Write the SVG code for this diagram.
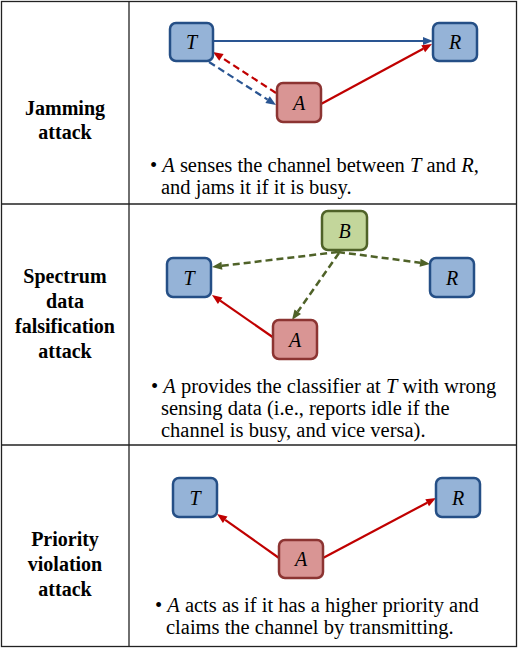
<svg xmlns="http://www.w3.org/2000/svg" width="518" height="648" viewBox="0 0 518 648">
<rect x="0" y="0" width="518" height="648" fill="#fff"/>
<g id="table" fill="none" stroke="#222" stroke-width="1.3">
<rect x="1.5" y="1.5" width="515" height="645"/>
<line x1="129" y1="1.5" x2="129" y2="646.5"/>
<line x1="1.5" y1="204" x2="516.5" y2="204"/>
<line x1="1.5" y1="445" x2="516.5" y2="445"/>
</g>
<g id="labels" font-family="Liberation Serif" font-weight="bold" font-size="20" text-anchor="middle" fill="#000">
<text x="65" y="115">Jamming</text>
<text x="65" y="139">attack</text>
<text x="65" y="283">Spectrum</text>
<text x="65" y="308">data</text>
<text x="65" y="333">falsification</text>
<text x="65" y="358">attack</text>
<text x="65" y="546">Priority</text>
<text x="65" y="571">violation</text>
<text x="65" y="596">attack</text>
</g>
<g id="connectors" stroke-width="2.2">
<line stroke="#2a5592" x1="213" y1="41" x2="424" y2="41"/>
<polygon fill="#2a5592" points="433,41 423,37 423,45"/>
<line stroke="#c00000" x1="321" y1="104" x2="423.2" y2="48.75"/>
<polygon fill="#c00000" points="432,44 425.1,52.3 421.3,45.2"/>
<line stroke="#c00000" stroke-dasharray="7 4" x1="276" y1="93" x2="221.4" y2="57.45"/>
<polygon fill="#c00000" points="213,52 223.6,54.1 219.2,60.8"/>
<line stroke="#2a5592" stroke-dasharray="7 4" x1="209" y1="62" x2="267.6" y2="99.6"/>
<polygon fill="#2a5592" points="276,105 265.4,103 269.8,96.2"/>
<line stroke="#4f6228" stroke-width="2.5" stroke-dasharray="7 4" x1="338" y1="252" x2="221.9" y2="265.8"/>
<polygon fill="#4f6228" points="212,267 221.4,261.8 222.4,269.8"/>
<line stroke="#4f6228" stroke-width="2.5" stroke-dasharray="7 4" x1="338" y1="252" x2="420.1" y2="262.7"/>
<polygon fill="#4f6228" points="430,264 419.6,266.7 420.6,258.7"/>
<line stroke="#4f6228" stroke-width="2.5" stroke-dasharray="7 4" x1="339" y1="253" x2="297.7" y2="311.8"/>
<polygon fill="#4f6228" points="292,320 294.5,309.5 301,314.1"/>
<line stroke="#c00000" x1="274" y1="338" x2="220.2" y2="300.7"/>
<polygon fill="#c00000" points="212,295 222.5,297.4 217.9,304"/>
<line stroke="#c00000" x1="279" y1="558" x2="225.2" y2="519.8"/>
<polygon fill="#c00000" points="217,514 227.5,516.5 222.9,523.1"/>
<line stroke="#c00000" x1="323" y1="558" x2="427.2" y2="502.7"/>
<polygon fill="#c00000" points="436,498 429,506.2 425.3,499.2"/>
</g>
<g id="nodes" font-family="Liberation Serif" font-style="italic" font-size="20" text-anchor="middle" stroke-width="2.5">
<g id="r1-T"><rect x="170" y="23" width="43" height="38" rx="6" fill="#95b3d7" stroke="#254f86"/><text x="191.5" y="49" fill="#000" stroke="none">T</text></g>
<g id="r1-R"><rect x="433" y="23" width="44" height="38" rx="6" fill="#95b3d7" stroke="#254f86"/><text x="455" y="49" fill="#000" stroke="none">R</text></g>
<g id="r1-A"><rect x="277" y="83" width="44" height="39" rx="6" fill="#d99594" stroke="#8c3432"/><text x="299" y="110" fill="#000" stroke="none">A</text></g>
<g id="r2-B"><rect x="322" y="211" width="45" height="39" rx="6" fill="#c3d69b" stroke="#4f6228"/><text x="344.5" y="238" fill="#000" stroke="none">B</text></g>
<g id="r2-T"><rect x="167" y="258" width="44" height="39" rx="6" fill="#95b3d7" stroke="#254f86"/><text x="189" y="285" fill="#000" stroke="none">T</text></g>
<g id="r2-R"><rect x="430" y="258" width="44" height="39" rx="6" fill="#95b3d7" stroke="#254f86"/><text x="452" y="285" fill="#000" stroke="none">R</text></g>
<g id="r2-A"><rect x="273" y="320" width="44" height="39" rx="6" fill="#d99594" stroke="#8c3432"/><text x="295" y="347" fill="#000" stroke="none">A</text></g>
<g id="r3-T"><rect x="173" y="478" width="44" height="39" rx="6" fill="#95b3d7" stroke="#254f86"/><text x="195" y="505" fill="#000" stroke="none">T</text></g>
<g id="r3-R"><rect x="436" y="478" width="44" height="39" rx="6" fill="#95b3d7" stroke="#254f86"/><text x="458" y="505" fill="#000" stroke="none">R</text></g>
<g id="r3-A"><rect x="279" y="540" width="44" height="38" rx="6" fill="#d99594" stroke="#8c3432"/><text x="301" y="566" fill="#000" stroke="none">A</text></g>
</g>
<g id="texts" font-family="Liberation Serif" font-size="20.5" fill="#000">
<text x="150" y="172">&#8226;</text>
<text x="162.3" y="172" font-style="italic">A</text>
<text x="179.9" y="172">senses the channel between</text>
<text x="409.9" y="172" font-style="italic">T</text>
<text x="426.4" y="172">and</text>
<text x="461.2" y="172" font-style="italic">R</text>
<text x="473.7" y="172">,</text>
<text x="161" y="194">and jams it if it is busy.</text>
<text x="151" y="393">&#8226;</text>
<text x="163.3" y="393" font-style="italic">A</text>
<text x="180.9" y="393">provides the classifier at</text>
<text x="385.9" y="393" font-style="italic">T</text>
<text x="402.4" y="393">with wrong</text>
<text x="161" y="415">sensing data (i.e., reports idle if the</text>
<text x="161" y="437">channel is busy, and vice versa).</text>
<text x="155" y="612">&#8226;</text>
<text x="167.3" y="612" font-style="italic">A</text>
<text x="184.9" y="612">acts as if it has a higher priority and</text>
<text x="166" y="634">claims the channel by transmitting.</text>
</g>
</svg>
